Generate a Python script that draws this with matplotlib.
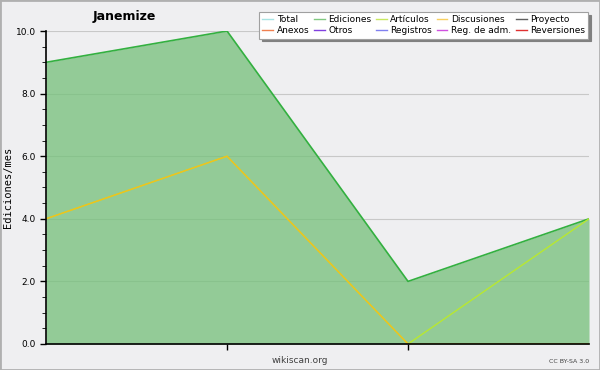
import matplotlib
matplotlib.use("Agg")
import matplotlib.pyplot as plt
from matplotlib.ticker import MultipleLocator, NullFormatter

# datos
meses = [0, 1, 2, 3]
ediciones = [9, 10, 2, 4]
articulos = [4, 6, 0, 4]
discusiones = [4, 6, 0, 0]

series_leyenda = ["Total", "Ediciones", "Artículos", "Discusiones", "Proyecto",
                  "Anexos", "Otros", "Registros", "Reg. de adm.", "Reversiones"]
colores_leyenda = ["#a8e4e4", "#80c880", "#c8e860", "#f8d060", "#606060",
                   "#f08050", "#8040e0", "#8080f0", "#d050e0", "#e03030"]

FONDO = "#efeff1"

fig = plt.figure(figsize=(6, 3.7), dpi=100, facecolor=FONDO)
fig.patches.append(plt.Rectangle((0, 0), 1, 1, transform=fig.transFigure,
                                 fill=False, edgecolor="#b0b0b0", linewidth=2))
ax = fig.add_axes([0.0767, 0.0703, 0.905, 0.8459])
ax.set_facecolor(FONDO)

ax.grid(axis="y", color="#c8c8c8", linewidth=0.8, zorder=0)
ax.set_axisbelow(True)
ax.fill_between(meses, ediciones, 0, color="#74c079", alpha=0.75, linewidth=0, zorder=1)
ax.plot(meses, ediciones, color="#33b040", linewidth=1.2, zorder=3)
ax.plot(meses, articulos, color="#b8e830", linewidth=1, zorder=3)
ax.plot(meses, discusiones, color="#f0c020", linewidth=1, zorder=4)

ax.set_xlim(0, 3)
ax.set_ylim(0, 10)
ax.yaxis.set_major_locator(MultipleLocator(2))
ax.yaxis.set_minor_locator(MultipleLocator(0.5))
ax.set_yticklabels(["%.1f" % v for v in ax.get_yticks()])
ax.set_xticks([1, 2])
ax.xaxis.set_major_formatter(NullFormatter())
ax.tick_params(axis="both", labelsize=6.5, colors="black", length=4, width=1)
ax.tick_params(axis="y", which="minor", length=3)
for lado in ["top", "right"]:
    ax.spines[lado].set_visible(False)
ax.spines["left"].set_zorder(5)
ax.spines["bottom"].set_zorder(5)
ax.spines["left"].set_linewidth(1.2)
ax.spines["bottom"].set_linewidth(1.2)

ax.set_ylabel("Ediciones/mes", fontsize=7.5, family="DejaVu Sans Mono", labelpad=1.5)
fig.text(0.208, 0.955, "Janemize", fontsize=9, fontweight="bold", ha="center", va="center")
fig.text(0.5, 0.027, "wikiscan.org", fontsize=6.5, color="#404040", ha="center", va="center")
fig.text(0.982, 0.024, "CC BY-SA 3.0", fontsize=4.5, color="#404040", ha="right", va="center")

# la leyenda se llena por columnas: reordenar para que las filas queden como en el original
orden = [0, 5, 1, 6, 2, 7, 3, 8, 4, 9]
handles = [plt.Line2D([], [], color=colores_leyenda[i], linewidth=1) for i in orden]
etiquetas = [series_leyenda[i] for i in orden]
leg = fig.legend(handles, etiquetas, ncol=5, loc="upper right",
                 bbox_to_anchor=(0.985, 0.975), fontsize=6.5, frameon=True,
                 fancybox=False, shadow={"color": "#808080", "alpha": 1}, handlelength=1.2,
                 handletextpad=0.4, columnspacing=0.5, labelspacing=0.25, borderpad=0.35,
                 borderaxespad=0.3)
leg.get_frame().set_edgecolor("#a0a0a0")
leg.get_frame().set_linewidth(0.8)

fig.savefig("out.png", dpi=100, facecolor=FONDO)
